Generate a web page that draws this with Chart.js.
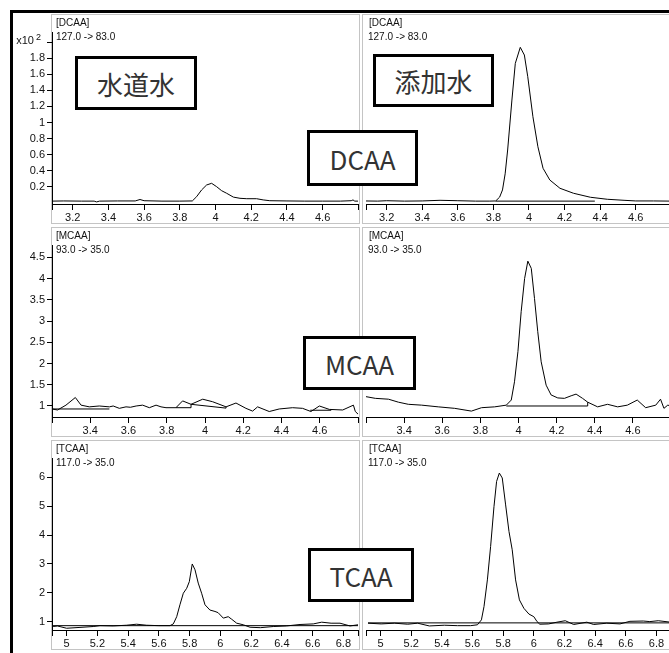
<!DOCTYPE html>
<html lang="ja">
<head>
<meta charset="UTF-8">
<title>DCAA / MCAA / TCAA chromatograms</title>
<script src="https://cdn.jsdelivr.net/npm/chart.js@4"></script>
<style>
  body { margin: 0; background: #fff; }
  #page { position: relative; width: 669px; height: 653px; overflow: hidden;
          font-family: "Liberation Sans", Arial, sans-serif; }
  .frame { position: absolute; left: 10px; top: 10px; width: 800px; height: 800px;
           border-left: 3px solid #000; border-top: 3px solid #000; }
  .panel { position: absolute; box-sizing: border-box; border: 1px solid #c4c4c4; height: 210px; }
  canvas { position: absolute; }
  .tag { position: absolute; font-size: 10px; line-height: 12px; color: #111; white-space: nowrap; z-index: 2; }
  .exp { position: absolute; left: 10px; width: 31px; text-align: right; font-size: 11px; line-height: 14px; color: #111; }
  .exp sup { font-size: 9px; vertical-align: 4px; line-height: 0; margin-left: 2px; }
  .box { position: absolute; box-sizing: border-box; border: 3px solid #000; background: #fff;
         font-family: "Noto Sans CJK JP", "Noto Sans", sans-serif; font-size: 26px; color: #333;
         display: flex; align-items: center; justify-content: center; z-index: 3; }
</style>
</head>
<body>
<div id="page">
  <div class="frame"></div>

  <div class="panel" style="left:51px;top:14px;width:309px"></div>
  <div class="panel" style="left:362px;top:14px;width:320px"></div>
  <div class="panel" style="left:51px;top:227px;width:309px"></div>
  <div class="panel" style="left:362px;top:227px;width:320px"></div>
  <div class="panel" style="left:51px;top:440px;width:309px"></div>
  <div class="panel" style="left:362px;top:440px;width:320px"></div>

  <canvas id="c1" width="346" height="210" style="left:14px;top:14px"></canvas>
  <canvas id="c2" width="308" height="210" style="left:365px;top:14px"></canvas>
  <canvas id="c3" width="346" height="210" style="left:14px;top:227px"></canvas>
  <canvas id="c4" width="308" height="210" style="left:365px;top:227px"></canvas>
  <canvas id="c5" width="346" height="210" style="left:14px;top:440px"></canvas>
  <canvas id="c6" width="308" height="210" style="left:365px;top:440px"></canvas>

  <div class="exp" style="top:33px">x10<sup>2</sup></div>

  <div class="tag" style="left:56px;top:17px">[DCAA]</div>
  <div class="tag" style="left:56px;top:31px">127.0 -&gt; 83.0</div>
  <div class="tag" style="left:369px;top:17px">[DCAA]</div>
  <div class="tag" style="left:368px;top:31px">127.0 -&gt; 83.0</div>
  <div class="tag" style="left:56px;top:230px">[MCAA]</div>
  <div class="tag" style="left:56px;top:244px">93.0 -&gt; 35.0</div>
  <div class="tag" style="left:369px;top:230px">[MCAA]</div>
  <div class="tag" style="left:368px;top:244px">93.0 -&gt; 35.0</div>
  <div class="tag" style="left:56px;top:443px">[TCAA]</div>
  <div class="tag" style="left:56px;top:457px">117.0 -&gt; 35.0</div>
  <div class="tag" style="left:369px;top:443px">[TCAA]</div>
  <div class="tag" style="left:368px;top:457px">117.0 -&gt; 35.0</div>

  <div class="box" style="left:75px;top:56px;width:122px;height:54px">水道水</div>
  <div class="box" style="left:373px;top:54px;width:121px;height:53px">添加水</div>
  <div class="box" style="left:307px;top:130px;width:111px;height:56px">DCAA</div>
  <div class="box" style="left:303px;top:336px;width:113px;height:54px">MCAA</div>
  <div class="box" style="left:308px;top:548px;width:106px;height:54px">TCAA</div>
</div>

<script>
// retention time (min) and abundance
// DCAA in counts x10^2, MCAA / TCAA in the plotted units

const dcaaTapX = [3.084, 3.15, 3.25, 3.32, 3.334, 3.35, 3.45, 3.55, 3.577, 3.60, 3.70, 3.80, 3.87, 3.894, 3.922, 3.95, 3.978, 4.006, 4.034, 4.062, 4.10, 4.137, 4.175, 4.23, 4.267, 4.304, 4.40, 4.50, 4.60, 4.70, 4.76, 4.77, 4.78, 4.798];
const dcaaTapY = [0.02, 0.022, 0.02, 0.02, 0.01, 0.02, 0.022, 0.022, 0.04, 0.025, 0.02, 0.02, 0.022, 0.075, 0.159, 0.221, 0.242, 0.2, 0.15, 0.118, 0.07, 0.055, 0.05, 0.05, 0.035, 0.025, 0.022, 0.02, 0.02, 0.02, 0.025, 0.035, 0.02, 0.02];

const dcaaSpikeX = [3.075, 3.15, 3.2, 3.3, 3.4, 3.5, 3.6, 3.7, 3.78, 3.813, 3.835, 3.851, 3.866, 3.88, 3.904, 3.923, 3.951, 3.974, 3.993, 4.022, 4.05, 4.079, 4.117, 4.174, 4.25, 4.345, 4.44, 4.534, 4.6, 4.7, 4.8];
const dcaaSpikeY = [0.022, 0.02, 0.025, 0.02, 0.022, 0.03, 0.025, 0.02, 0.02, 0.022, 0.07, 0.159, 0.36, 0.657, 1.28, 1.737, 1.937, 1.841, 1.571, 1.072, 0.698, 0.429, 0.283, 0.18, 0.118, 0.068, 0.043, 0.03, 0.022, 0.022, 0.02];
const dcaaSpikeBaseX = [3.813, 4.37];
const dcaaSpikeBaseY = [0.02, 0.02];

const mcaaTapX = [3.2, 3.229, 3.273, 3.322, 3.352, 3.395, 3.447, 3.5, 3.52, 3.552, 3.587, 3.61, 3.64, 3.674, 3.709, 3.744, 3.77, 3.796, 3.848, 3.883, 3.927, 3.988, 4.04, 4.11, 4.162, 4.214, 4.249, 4.275, 4.336, 4.388, 4.458, 4.51, 4.554, 4.598, 4.65, 4.72, 4.776, 4.786, 4.8];
const mcaaTapY = [0.93, 0.906, 1.02, 1.2, 1.02, 0.98, 1.0, 0.98, 1.0, 0.945, 0.98, 0.97, 1.0, 1.02, 0.96, 1.02, 0.98, 0.96, 0.96, 1.12, 1.04, 1.16, 1.1, 0.98, 1.07, 0.945, 0.88, 0.98, 0.87, 0.93, 0.96, 0.945, 0.87, 1.0, 0.92, 0.906, 1.02, 0.87, 0.81];
const mcaaTapBase1X = [3.203, 3.5];
const mcaaTapBase1Y = [0.93, 0.93];
const mcaaTapBase2X = [3.848, 3.927, 3.927, 4.11, 4.11];
const mcaaTapBase2Y = [0.96, 0.96, 1.04, 0.95, 0.98];
const mcaaTapBase3X = [4.55, 4.66];
const mcaaTapBase3Y = [0.9, 0.9];

const mcaaSpikeX = [3.2, 3.249, 3.318, 3.37, 3.422, 3.492, 3.579, 3.665, 3.753, 3.806, 3.875, 3.936, 3.962, 3.979, 3.997, 4.014, 4.032, 4.049, 4.067, 4.084, 4.101, 4.119, 4.145, 4.171, 4.206, 4.241, 4.276, 4.302, 4.336, 4.363, 4.415, 4.467, 4.52, 4.571, 4.623, 4.667, 4.72, 4.745, 4.763, 4.783, 4.8];
const mcaaSpikeY = [1.22, 1.18, 1.16, 1.09, 1.04, 1.02, 0.98, 0.945, 0.88, 0.96, 0.98, 1.02, 1.14, 1.57, 2.28, 3.22, 4.0, 4.41, 4.24, 3.53, 2.75, 2.04, 1.49, 1.26, 1.19, 1.18, 1.24, 1.28, 1.18, 1.09, 0.98, 1.04, 0.98, 1.02, 1.14, 0.96, 1.02, 1.16, 0.945, 1.02, 1.0];
const mcaaSpikeBaseX = [3.936, 4.363, 4.363];
const mcaaSpikeBaseY = [1.0, 1.0, 1.09];

const tcaaTapX = [4.905, 4.913, 4.94, 5.0, 5.087, 5.173, 5.217, 5.303, 5.39, 5.455, 5.52, 5.6, 5.672, 5.694, 5.716, 5.737, 5.759, 5.781, 5.798, 5.817, 5.835, 5.856, 5.878, 5.9, 5.932, 5.965, 5.985, 6.019, 6.051, 6.074, 6.106, 6.149, 6.193, 6.26, 6.344, 6.43, 6.518, 6.604, 6.659, 6.72, 6.778, 6.843, 6.895];
const tcaaTapY = [0.84, 0.84, 0.86, 0.78, 0.81, 0.84, 0.87, 0.86, 0.885, 0.92, 0.885, 0.87, 0.87, 0.93, 1.18, 1.59, 1.99, 2.16, 2.39, 3.0, 2.8, 2.34, 1.99, 1.59, 1.41, 1.36, 1.32, 1.13, 1.18, 1.09, 0.955, 0.9, 0.815, 0.8, 0.84, 0.86, 0.91, 0.93, 0.99, 0.955, 0.955, 0.86, 0.9];
const tcaaTapBaseX = [4.905, 6.895];
const tcaaTapBaseY = [0.87, 0.87];

const tcaaSpikeX = [4.918, 5.004, 5.091, 5.177, 5.242, 5.318, 5.416, 5.502, 5.588, 5.632, 5.658, 5.675, 5.697, 5.718, 5.74, 5.757, 5.775, 5.794, 5.816, 5.838, 5.859, 5.881, 5.906, 5.935, 5.968, 6.0, 6.021, 6.039, 6.097, 6.151, 6.205, 6.26, 6.346, 6.39, 6.476, 6.562, 6.627, 6.714, 6.757, 6.812, 6.892];
const tcaaSpikeY = [0.955, 0.93, 0.955, 0.92, 0.955, 0.86, 0.885, 0.87, 0.87, 0.9, 1.07, 1.53, 2.45, 3.6, 4.98, 5.85, 6.14, 5.97, 5.04, 4.12, 3.49, 2.45, 1.76, 1.47, 1.27, 1.18, 1.01, 0.92, 0.93, 0.99, 1.04, 0.91, 0.99, 0.91, 0.955, 0.93, 1.02, 1.03, 1.01, 1.04, 0.99];
const tcaaSpikeBaseX = [4.918, 6.892];
const tcaaSpikeBaseY = [0.966, 0.966];

// axis ticks
const dcaaXTicks = [3.2, 3.4, 3.6, 3.8, 4, 4.2, 4.4, 4.6];
const dcaaYTicks = [0.2, 0.4, 0.6, 0.8, 1, 1.2, 1.4, 1.6, 1.8];
const mcaaXTicks = [3.4, 3.6, 3.8, 4, 4.2, 4.4, 4.6];
const mcaaYTicks = [1, 1.5, 2, 2.5, 3, 3.5, 4, 4.5];
const tcaaXTicks = [5, 5.2, 5.4, 5.6, 5.8, 6, 6.2, 6.4, 6.6, 6.8];
const tcaaYTicks = [1, 2, 3, 4, 5, 6];

const rows = [
  { xMin: 3.084, xMax: 4.798, yMin: -0.016, yMax: 2.128, xTicks: dcaaXTicks, yTicks: dcaaYTicks, yMarks: [...dcaaYTicks, 2] },
  { xMin: 3.2, xMax: 4.8, yMin: 0.741, yMax: 4.79, xTicks: mcaaXTicks, yTicks: mcaaYTicks, yMarks: mcaaYTicks },
  { xMin: 4.905, xMax: 6.895, yMin: 0.72, yMax: 6.66, xTicks: tcaaXTicks, yTicks: tcaaYTicks, yMarks: tcaaYTicks }
];

const pts = (xs, ys) => xs.map((x, i) => ({ x: x, y: ys[i] }));
const tickFont = { family: '"Liberation Sans", Arial, sans-serif', size: 11 };

function makeChart(id, row, series, showY) {
  const datasets = series.map(s => ({
    data: pts(s[0], s[1]),
    borderColor: '#000',
    borderWidth: 1,
    pointRadius: 0,
    tension: 0,
    fill: false
  }));

  return new Chart(document.getElementById(id), {
    type: 'line',
    data: { datasets: datasets },
    options: {
      responsive: false,
      animation: false,
      devicePixelRatio: 1,
      layout: { padding: { top: 18, right: 2, left: 0, bottom: 0 } },
      plugins: { legend: { display: false }, tooltip: { enabled: false }, colors: { enabled: false } },
      scales: {
        x: {
          type: 'linear',
          min: row.xMin,
          max: row.xMax,
          afterFit: s => { s.height = 20; },
          afterBuildTicks: s => {
            s.ticks = [row.xMin, ...row.xTicks, row.xMax].map(v => ({ value: v }));
          },
          grid: { drawOnChartArea: false, tickLength: 6, color: '#000' },
          border: { color: '#000' },
          ticks: {
            autoSkip: false, maxRotation: 0, padding: 1, color: '#111', font: tickFont,
            callback: v => row.xTicks.includes(v) ? String(v) : ''
          }
        },
        y: {
          display: showY,
          min: row.yMin,
          max: row.yMax,
          // right-hand panels share the left axis, so no width there
          afterFit: s => { s.width = showY ? 38 : 0; },
          afterBuildTicks: s => { s.ticks = row.yMarks.map(v => ({ value: v })); },
          grid: { drawOnChartArea: false, tickLength: 5, color: '#000' },
          border: { color: '#000' },
          ticks: {
            padding: 2, color: '#111', font: tickFont,
            callback: v => row.yTicks.includes(v) ? String(v) : ''
          }
        }
      }
    }
  });
}

makeChart('c1', rows[0], [[dcaaTapX, dcaaTapY]], true);
makeChart('c2', rows[0], [[dcaaSpikeX, dcaaSpikeY], [dcaaSpikeBaseX, dcaaSpikeBaseY]], false);
makeChart('c3', rows[1], [[mcaaTapX, mcaaTapY], [mcaaTapBase1X, mcaaTapBase1Y], [mcaaTapBase2X, mcaaTapBase2Y], [mcaaTapBase3X, mcaaTapBase3Y]], true);
makeChart('c4', rows[1], [[mcaaSpikeX, mcaaSpikeY], [mcaaSpikeBaseX, mcaaSpikeBaseY]], false);
makeChart('c5', rows[2], [[tcaaTapX, tcaaTapY], [tcaaTapBaseX, tcaaTapBaseY]], true);
makeChart('c6', rows[2], [[tcaaSpikeX, tcaaSpikeY], [tcaaSpikeBaseX, tcaaSpikeBaseY]], false);
</script>
</body>
</html>
